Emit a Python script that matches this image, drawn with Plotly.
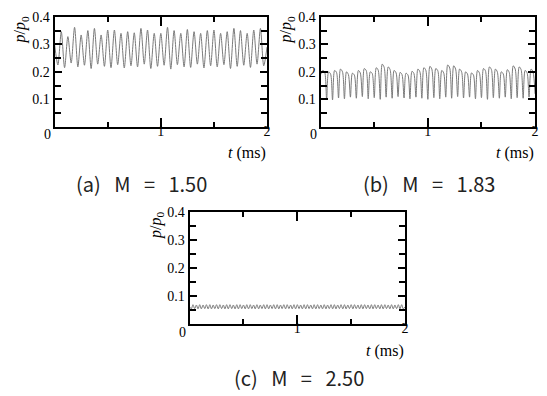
import plotly.graph_objects as go

# Farben / Schrift
LINE_GREY = "#7a7a7a"
AXIS_BLACK = "#000000"
SERIF = "Liberation Serif, Times New Roman, serif"
SANS = "Noto Sans CJK KR, Liberation Sans, sans-serif"

W, H = 547, 396

# (a) M = 1.50
t_a = [0.000, 0.031, 0.063, 0.094, 0.125, 0.156, 0.188, 0.219, 0.250, 0.281, 0.313, 0.344, 0.375,
       0.406, 0.438, 0.469, 0.500, 0.531, 0.563, 0.594, 0.625, 0.656, 0.688, 0.719, 0.750, 0.781,
       0.813, 0.844, 0.875, 0.906, 0.938, 0.969, 1.000, 1.031, 1.063, 1.094, 1.125, 1.156, 1.188,
       1.219, 1.250, 1.281, 1.313, 1.344, 1.375, 1.406, 1.438, 1.469, 1.500, 1.531, 1.563, 1.594,
       1.625, 1.656, 1.688, 1.719, 1.750, 1.781, 1.813, 1.844, 1.875, 1.906, 1.938, 1.969, 2.000]
p_a = [0.300, 0.225, 0.346, 0.215, 0.328, 0.232, 0.362, 0.218, 0.334, 0.224, 0.350, 0.212, 0.358,
       0.228, 0.334, 0.220, 0.352, 0.215, 0.352, 0.226, 0.340, 0.214, 0.346, 0.222, 0.342, 0.218,
       0.358, 0.228, 0.352, 0.212, 0.340, 0.220, 0.340, 0.224, 0.362, 0.210, 0.350, 0.226, 0.340,
       0.218, 0.354, 0.216, 0.346, 0.228, 0.340, 0.214, 0.350, 0.222, 0.352, 0.218, 0.340, 0.226,
       0.346, 0.212, 0.358, 0.220, 0.350, 0.224, 0.340, 0.216, 0.352, 0.228, 0.358, 0.222, 0.290]

# (b) M = 1.83  (Tal, Spitze, Nebenspitze je Periode)
t_b = [0.000, 0.019, 0.037, 0.056, 0.074, 0.093, 0.111, 0.130, 0.148, 0.167, 0.185, 0.204,
       0.222, 0.241, 0.259, 0.278, 0.296, 0.315, 0.333, 0.352, 0.370, 0.389, 0.407, 0.426,
       0.444, 0.463, 0.481, 0.500, 0.519, 0.537, 0.556, 0.574, 0.593, 0.611, 0.630, 0.648,
       0.667, 0.685, 0.704, 0.722, 0.741, 0.759, 0.778, 0.796, 0.815, 0.833, 0.852, 0.870,
       0.889, 0.907, 0.926, 0.944, 0.963, 0.981, 1.000,
       1.019, 1.037, 1.056, 1.074, 1.093, 1.111, 1.130, 1.148, 1.167, 1.185, 1.204,
       1.222, 1.241, 1.259, 1.278, 1.296, 1.315, 1.333, 1.352, 1.370, 1.389, 1.407, 1.426,
       1.444, 1.463, 1.481, 1.500, 1.519, 1.537, 1.556, 1.574, 1.593, 1.611, 1.630, 1.648,
       1.667, 1.685, 1.704, 1.722, 1.741, 1.759, 1.778, 1.796, 1.815, 1.833, 1.852, 1.870,
       1.889, 1.907, 1.926, 1.944, 1.963, 1.981, 2.000]
p_b = [0.190, 0.205, 0.200, 0.100, 0.200, 0.192, 0.098, 0.205, 0.198, 0.105, 0.210, 0.200,
       0.102, 0.200, 0.190, 0.108, 0.195, 0.188, 0.104, 0.205, 0.196, 0.110, 0.212, 0.204,
       0.102, 0.200, 0.194, 0.106, 0.215, 0.206, 0.100, 0.228, 0.216, 0.108, 0.218, 0.208,
       0.104, 0.205, 0.196, 0.110, 0.198, 0.190, 0.105, 0.195, 0.188, 0.102, 0.202, 0.194,
       0.108, 0.210, 0.200, 0.104, 0.215, 0.206, 0.100,
       0.220, 0.210, 0.106, 0.212, 0.204, 0.102, 0.205, 0.196, 0.108, 0.225, 0.214,
       0.104, 0.222, 0.210, 0.110, 0.210, 0.200, 0.105, 0.200, 0.192, 0.108, 0.196, 0.188,
       0.102, 0.205, 0.196, 0.106, 0.212, 0.204, 0.100, 0.218, 0.208, 0.106, 0.210, 0.200,
       0.104, 0.200, 0.192, 0.108, 0.208, 0.198, 0.102, 0.222, 0.210, 0.106, 0.218, 0.208,
       0.104, 0.205, 0.196, 0.108, 0.210, 0.200, 0.120]

# (c) M = 2.50
t_c = [0.000, 0.016, 0.031, 0.047, 0.063, 0.078, 0.094, 0.109,
       0.125, 0.141, 0.156, 0.172, 0.188, 0.203, 0.219, 0.234,
       0.250, 0.266, 0.281, 0.297, 0.313, 0.328, 0.344, 0.359,
       0.375, 0.391, 0.406, 0.422, 0.438, 0.453, 0.469, 0.484,
       0.500, 0.516, 0.531, 0.547, 0.563, 0.578, 0.594, 0.609,
       0.625, 0.641, 0.656, 0.672, 0.688, 0.703, 0.719, 0.734,
       0.750, 0.766, 0.781, 0.797, 0.813, 0.828, 0.844, 0.859,
       0.875, 0.891, 0.906, 0.922, 0.938, 0.953, 0.969, 0.984,
       1.000, 1.016, 1.031, 1.047, 1.063, 1.078, 1.094, 1.109,
       1.125, 1.141, 1.156, 1.172, 1.188, 1.203, 1.219, 1.234,
       1.250, 1.266, 1.281, 1.297, 1.313, 1.328, 1.344, 1.359,
       1.375, 1.391, 1.406, 1.422, 1.438, 1.453, 1.469, 1.484,
       1.500, 1.516, 1.531, 1.547, 1.563, 1.578, 1.594, 1.609,
       1.625, 1.641, 1.656, 1.672, 1.688, 1.703, 1.719, 1.734,
       1.750, 1.766, 1.781, 1.797, 1.813, 1.828, 1.844, 1.859,
       1.875, 1.891, 1.906, 1.922, 1.938, 1.953, 1.969, 1.984,
       2.000]
p_c = [0.062, 0.055, 0.070, 0.056, 0.069, 0.055, 0.070, 0.055,
       0.069, 0.056, 0.070, 0.055, 0.070, 0.055, 0.069, 0.056,
       0.070, 0.055, 0.070, 0.056, 0.069, 0.055, 0.070, 0.055,
       0.070, 0.056, 0.069, 0.055, 0.070, 0.055, 0.070, 0.056,
       0.069, 0.055, 0.070, 0.055, 0.070, 0.056, 0.069, 0.055,
       0.070, 0.055, 0.069, 0.056, 0.070, 0.055, 0.070, 0.055,
       0.069, 0.056, 0.070, 0.055, 0.070, 0.055, 0.069, 0.056,
       0.070, 0.055, 0.070, 0.056, 0.069, 0.055, 0.070, 0.055,
       0.070, 0.056, 0.069, 0.055, 0.070, 0.055, 0.070, 0.056,
       0.069, 0.055, 0.070, 0.055, 0.070, 0.056, 0.069, 0.055,
       0.070, 0.055, 0.069, 0.056, 0.070, 0.055, 0.070, 0.055,
       0.069, 0.056, 0.070, 0.055, 0.070, 0.055, 0.069, 0.056,
       0.070, 0.055, 0.070, 0.056, 0.069, 0.055, 0.070, 0.055,
       0.070, 0.056, 0.069, 0.055, 0.070, 0.055, 0.070, 0.056,
       0.069, 0.055, 0.070, 0.055, 0.070, 0.056, 0.069, 0.055,
       0.070, 0.055, 0.069, 0.056, 0.070, 0.055, 0.070, 0.055,
       0.062]

SP = "\u00a0\u00a0\u00a0"
captions = ["(a)" + SP + "M" + SP + "=" + SP + "1.50",
            "(b)" + SP + "M" + SP + "=" + SP + "1.83",
            "(c)" + SP + "M" + SP + "=" + SP + "2.50"]
x_ticks = [1, 2]
x_ticktext = ["1", "2"]
y_ticks = [0.1, 0.2, 0.3, 0.4]
y_ticktext = ["0.1", "0.2", "0.3", "0.4"]

# Plotflächen in Pixeln (links, rechts, oben, unten)
boxes = [(55, 269, 10, 122), (323, 539, 10, 122), (191, 408, 209, 323)]
caption_pos = [(143, 180), (432, 180), (301, 377)]


def px(x):
    return x / W


def py(y):
    return 1 - y / H


fig = go.Figure()
series = [(t_a, p_a), (t_b, p_b), (t_c, p_c)]
layout = dict(
    width=W, height=H,
    margin=dict(l=0, r=0, t=0, b=0),
    paper_bgcolor="white", plot_bgcolor="white",
    showlegend=False,
    annotations=[],
)

for i, ((tt, pp), (l, r, t, b)) in enumerate(zip(series, boxes)):
    n = "" if i == 0 else str(i + 1)
    fig.add_trace(go.Scatter(
        x=tt, y=pp, mode="lines", xaxis="x" + n, yaxis="y" + n,
        line=dict(color=LINE_GREY, width=1, shape="spline", smoothing=0.8),
        hoverinfo="skip"
    ))
    layout["xaxis" + n] = dict(
        domain=[px(l), px(r)], anchor="y" + n, range=[0, 2],
        tickvals=x_ticks, ticktext=x_ticktext,
        ticks="inside", ticklen=9, tickwidth=2, tickcolor=AXIS_BLACK,
        minor=dict(dtick=0.5, tick0=0, ticks="inside", ticklen=5, tickwidth=2,
                   tickcolor=AXIS_BLACK, showgrid=False),
        showline=True, linewidth=2, linecolor=AXIS_BLACK, mirror="ticks",
        showgrid=False, zeroline=False, ticklabelstandoff=-10,
        tickfont=dict(family=SERIF, size=14, color="black"),
    )
    layout["yaxis" + n] = dict(
        domain=[py(b), py(t)], anchor="x" + n, range=[0, 0.4],
        tickvals=y_ticks, ticktext=y_ticktext,
        ticks="inside", ticklen=7, tickwidth=2, tickcolor=AXIS_BLACK,
        minor=dict(dtick=0.05, tick0=0, ticks="inside", ticklen=6, tickwidth=2,
                   tickcolor=AXIS_BLACK, showgrid=False),
        showline=True, linewidth=2, linecolor=AXIS_BLACK, mirror="ticks",
        showgrid=False, zeroline=False,
        tickfont=dict(family=SERIF, size=14, color="black"),
    )
    # "0" in der Ecke
    layout["annotations"].append(dict(
        text="0", x=px(l - 7), y=py(b + 8), xref="paper", yref="paper",
        showarrow=False, font=dict(family=SERIF, size=14, color="black"),
        xanchor="center", yanchor="middle"
    ))
    # Achsentitel
    layout["annotations"].append(dict(
        text="<i>t</i> (ms)", x=px(r + 1), y=py(b + 27), xref="paper", yref="paper",
        showarrow=False, font=dict(family=SERIF, size=16, color="black"),
        xanchor="right", yanchor="middle"
    ))
    layout["annotations"].append(dict(
        text="<i>p</i>/<i>p</i><sub>0</sub>", x=px(l - 34), y=py(t + 13),
        xref="paper", yref="paper", textangle=-90,
        showarrow=False, font=dict(family=SERIF, size=16, color="black"),
        xanchor="center", yanchor="middle"
    ))
    cx, cy = caption_pos[i]
    layout["annotations"].append(dict(
        text=captions[i], x=px(cx), y=py(cy), xref="paper", yref="paper",
        showarrow=False, font=dict(family=SANS, size=20, color="#222222"),
        xanchor="center", yanchor="middle"
    ))

fig.update_layout(**layout)
# Seitenrand des Browsers entfernen, damit die Pixelpositionen stimmen
fig.write_html("out.html", config={"displayModeBar": False},
               post_script="document.body.style.margin='0';")
